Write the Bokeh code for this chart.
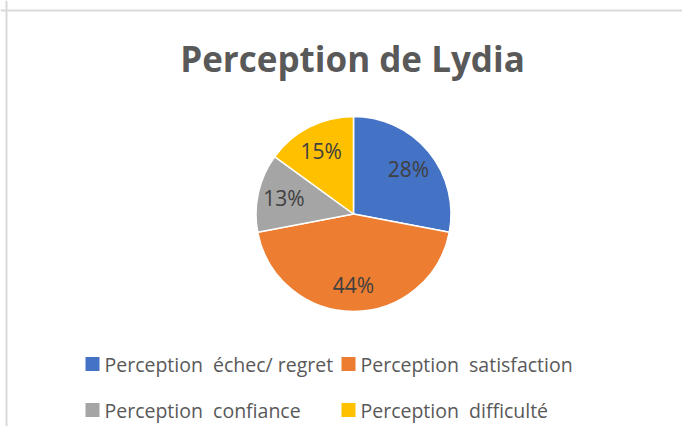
import math
from bokeh.plotting import figure
from bokeh.models import ColumnDataSource, Range1d, Span
from bokeh.core.properties import value
from bokeh.embed import file_html
from bokeh.resources import INLINE

# ---- data ----
title_text = "Perception de Lydia"
categories = ["Perception\u00a0 échec/ regret", "Perception\u00a0 satisfaction",
              "Perception\u00a0 confiance", "Perception\u00a0 difficulté"]
shares = [28, 44, 13, 15]
colors = ["#4472C4", "#ED7D31", "#A5A5A5", "#FFC000"]

# ---- layout (pixel-like data space) ----
W, H = 682, 426
def X(img_x):
    return img_x
def Y(img_y):
    return H - img_y

cx, cy, R = X(353), Y(213.5), 97.5
label_frac = 0.73
FONT = "Open Sans"

total = float(sum(shares))
starts, ends, lx, ly, labels = [], [], [], [], []
cum = 0.0
for s in shares:
    a0 = math.pi / 2 - 2 * math.pi * cum / total
    cum += s
    a1 = math.pi / 2 - 2 * math.pi * cum / total
    starts.append(a0)
    ends.append(a1)
    mid = (a0 + a1) / 2
    lx.append(cx + R * label_frac * math.cos(mid))
    ly.append(cy + R * label_frac * math.sin(mid))
    labels.append(f"{round(100 * s / total)}%")

src = ColumnDataSource(dict(start=starts, end=ends, color=colors,
                            lx=lx, ly=ly, label=labels, cat=categories))

p = figure(width=W, height=H, x_range=Range1d(0, W), y_range=Range1d(0, H),
           output_backend="svg", toolbar_location=None, min_border=0,
           background_fill_color="white", border_fill_color="white")
p.axis.visible = False
p.grid.visible = False
p.outline_line_color = None

# chart border (top & left)
p.add_layout(Span(location=Y(10), dimension="width", line_color="#d9d9d9", line_width=2))
p.add_layout(Span(location=X(6), dimension="height", line_color="#d9d9d9", line_width=2))

p.wedge(x=cx, y=cy, radius=R, start_angle="start", end_angle="end",
        direction="clock", fill_color="color", line_color="white",
        line_width=1.5, source=src)

p.text(x="lx", y="ly", text="label", source=src, text_align="center",
       text_baseline="middle", text_font=value(FONT),
       text_font_size="21px", text_color="#404040")

# title
p.text(x=[X(352)], y=[Y(57.5)], text=[title_text], text_align="center",
       text_baseline="middle", text_font=value(FONT),
       text_font_style="bold", text_font_size="35px", text_color="#595959")

# legend (2 columns x 2 rows)
col_sq = [X(92), X(348)]
col_tx = [X(104), X(360)]
row_mid = [Y(363.5), Y(409.5)]
sq_x, sq_y, tx_x, tx_y = [], [], [], []
for i in range(len(categories)):
    r, c = divmod(i, 2)
    sq_x.append(col_sq[c])
    sq_y.append(row_mid[r])
    tx_x.append(col_tx[c])
    tx_y.append(row_mid[r])
leg = ColumnDataSource(dict(sx=sq_x, sy=sq_y, tx=tx_x, ty=tx_y,
                            color=colors, cat=categories))
p.rect(x="sx", y="sy", width=14, height=14, width_units="screen",
       height_units="screen", fill_color="color", line_color=None, source=leg)
p.text(x="tx", y="ty", text="cat", source=leg, text_align="left",
       text_baseline="middle", text_font=value(FONT),
       text_font_size="19.5px", text_color="#595959")

open("out.html", "w").write(file_html(p, INLINE))
